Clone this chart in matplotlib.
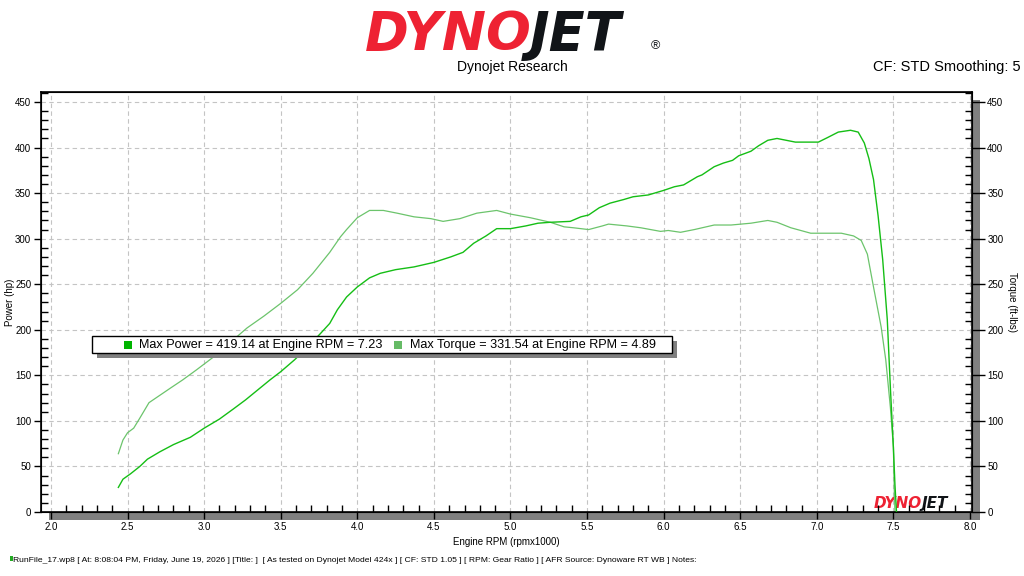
import numpy as np
import matplotlib.pyplot as plt
from matplotlib.patches import Rectangle
from matplotlib.ticker import MultipleLocator

power_rpm = [2.44, 2.47, 2.52, 2.58, 2.63, 2.71, 2.80, 2.91, 3.00, 3.10,
             3.19, 3.27, 3.35, 3.43, 3.50, 3.59, 3.67, 3.76, 3.82, 3.87,
             3.93, 4.00, 4.08, 4.15, 4.25, 4.37, 4.50, 4.61, 4.69, 4.76,
             4.84, 4.91, 5.00, 5.10, 5.18, 5.26, 5.39, 5.46, 5.51, 5.58,
             5.65, 5.74, 5.80, 5.90, 6.00, 6.07, 6.13, 6.22, 6.25, 6.33,
             6.39, 6.45, 6.49, 6.57, 6.62, 6.68, 6.74, 6.80, 6.86, 6.93,
             7.01, 7.07, 7.14, 7.22, 7.27, 7.31, 7.34, 7.37, 7.40, 7.43,
             7.46, 7.48, 7.50, 7.51, 7.52]
power = [27, 36, 42, 50, 58, 66, 74, 82, 92, 102,
         113, 123, 134, 145, 154, 167, 180, 196, 207, 222,
         236, 247, 257, 262, 266, 269, 274, 280, 285, 295,
         303, 311, 311, 314, 317, 318, 319, 324, 326, 334,
         339, 343, 346, 348, 353, 357, 359, 368, 370, 379,
         383, 386, 391, 396, 402, 408, 410, 408, 406, 406,
         406, 411, 417, 419, 417, 405, 388, 365, 325, 277,
         211, 137, 70, 30, 0]

torque_rpm = [2.44, 2.47, 2.50, 2.54, 2.58, 2.64, 2.71, 2.78, 2.86, 2.95,
              3.06, 3.17, 3.28, 3.39, 3.50, 3.61, 3.71, 3.82, 3.89, 3.93,
              4.00, 4.08, 4.17, 4.26, 4.37, 4.48, 4.56, 4.67, 4.78, 4.91,
              5.00, 5.13, 5.26, 5.35, 5.41, 5.51, 5.60, 5.64, 5.76, 5.85,
              5.98, 6.03, 6.11, 6.20, 6.33, 6.44, 6.57, 6.68, 6.74, 6.83,
              6.96, 7.07, 7.16, 7.24, 7.29, 7.33, 7.37, 7.42, 7.45, 7.48,
              7.50, 7.505, 7.51]
torque = [64, 79, 87, 92, 103, 120, 128, 136, 145, 156,
          170, 186, 202, 215, 229, 244, 262, 285, 302, 310,
          323, 331, 331, 328, 324, 322, 319, 322, 328, 331,
          327, 323, 318, 313, 312, 310, 314, 316, 314, 312,
          308, 309, 307, 310, 315, 315, 317, 320, 318, 312,
          306, 306, 306, 303, 298, 283, 247, 203, 167, 115,
          71, 27, 0]

power_label = 'Max Power = 419.14 at Engine RPM = 7.23'
torque_label = 'Max Torque = 331.54 at Engine RPM = 4.89'
footer = ('RunFile_17.wp8 [ At: 8:08:04 PM, Friday, June 19, 2026 ] [Title: ]  '
          '[ As tested on Dynojet Model 424x ] [ CF: STD 1.05 ] [ RPM: Gear Ratio ] '
          '[ AFR Source: Dynoware RT WB ] Notes:')

plt.rcParams['font.family'] = ['Liberation Sans', 'DejaVu Sans']

W, H = 1024, 576
fig = plt.figure(figsize=(W / 100, H / 100), dpi=100)

def fx(px):
    return px / W

def fy(py):
    return 1 - py / H

power_col = '#15be15'
torque_col = '#6cc46c'

# plot-area drop shadow
fig.patches.append(Rectangle((fx(49), fy(520)), fx(980 - 49), (520 - 100) / H,
                             transform=fig.transFigure, facecolor='#808080',
                             edgecolor='none', zorder=-1))

ax = fig.add_axes([fx(41), fy(512), fx(972 - 41), (512 - 92) / H])
ax.set_zorder(0)
ax.plot(power_rpm, power, color=power_col, lw=1.0, zorder=3)
ax.plot(torque_rpm, torque, color=torque_col, lw=0.9, zorder=2)

ax.set_xlim(1.935, 8.013)
ax.set_ylim(0, 461)
ax.xaxis.set_major_locator(MultipleLocator(0.5))
ax.xaxis.set_minor_locator(MultipleLocator(0.1))
ax.yaxis.set_major_locator(MultipleLocator(50))
ax.yaxis.set_minor_locator(MultipleLocator(10))
ax.xaxis.set_major_formatter(lambda v, p: f'{v:.1f}')
ax.grid(True, which='major', color='#c4c4c4', ls=(0, (4, 3)), lw=0.8)
ax.tick_params(axis='both', which='major', direction='out', length=5,
               width=1, labelsize=7, pad=2)
ax.tick_params(axis='both', which='minor', direction='in', length=5, width=1)
for s in ax.spines.values():
    s.set_linewidth(1.2)

ax2 = ax.twinx()
ax2.set_ylim(ax.get_ylim())
ax2.yaxis.set_major_locator(MultipleLocator(50))
ax2.yaxis.set_minor_locator(MultipleLocator(10))
ax2.tick_params(axis='y', which='major', direction='out', length=9,
                width=1, labelsize=7, pad=2)
ax2.tick_params(axis='y', which='minor', direction='in', length=5, width=1)

ax.set_xlabel('Engine RPM (rpmx1000)', fontsize=7, labelpad=4)
ax.set_ylabel('Power (hp)', fontsize=7)
ax.yaxis.set_label_coords(-0.028, 0.5)
ax2.set_ylabel('Torque (ft-lbs)', fontsize=7, rotation=270, labelpad=10)

# watermark logo in plot corner
ax.text(0.946, 0.003, 'DYNO', transform=ax.transAxes, ha='right', va='bottom',
        color='#ee2233', fontsize=11, fontweight='heavy', style='italic',
        family='DejaVu Sans', zorder=1)
ax.text(0.946, 0.003, 'JET', transform=ax.transAxes, ha='left', va='bottom',
        color='#111418', fontsize=11, fontweight='heavy', style='italic',
        family='DejaVu Sans', zorder=1)

# header logo
fig.text(fx(532), fy(50), 'DYNO', ha='right', va='baseline', color='#ee2233',
         fontsize=38, fontweight='heavy', style='italic', family='DejaVu Sans')
fig.text(fx(530), fy(50), 'JET', ha='left', va='baseline', color='#111418',
         fontsize=38, fontweight='heavy', style='italic', family='DejaVu Sans')
fig.text(fx(655), fy(46), '®', ha='center', va='center', color='#111418',
         fontsize=9)
fig.text(fx(512), fy(67), 'Dynojet Research', ha='center', va='center',
         fontsize=10)
fig.text(fx(1021), fy(67), 'CF: STD Smoothing: 5', ha='right', va='center',
         fontsize=10.5)

# legend box
fig.patches.append(Rectangle((fx(97), fy(358)), fx(580), 17 / H,
                             transform=fig.transFigure, facecolor='#808080',
                             edgecolor='none', zorder=4))
fig.patches.append(Rectangle((fx(92), fy(353)), fx(580), 17 / H,
                             transform=fig.transFigure, facecolor='white',
                             edgecolor='black', lw=1, zorder=5))
fig.patches.append(Rectangle((fx(124), fy(349)), fx(8), 8 / H,
                             transform=fig.transFigure, facecolor='#00b400',
                             edgecolor='none', zorder=6))
fig.text(fx(139), fy(345), power_label, ha='left', va='center', fontsize=9.1,
         zorder=7)
fig.patches.append(Rectangle((fx(394), fy(349)), fx(8), 8 / H,
                             transform=fig.transFigure, facecolor='#66bb66',
                             edgecolor='none', zorder=6))
fig.text(fx(410), fy(345), torque_label, ha='left', va='center', fontsize=9.1,
         zorder=7)

# footer
fig.patches.append(Rectangle((fx(10), fy(561)), fx(3), 5 / H,
                             transform=fig.transFigure, facecolor='#22aa22',
                             edgecolor='none'))
fig.text(fx(13), fy(561), footer, ha='left', va='center', fontsize=6.1)

fig.savefig('out.png', dpi=100)
